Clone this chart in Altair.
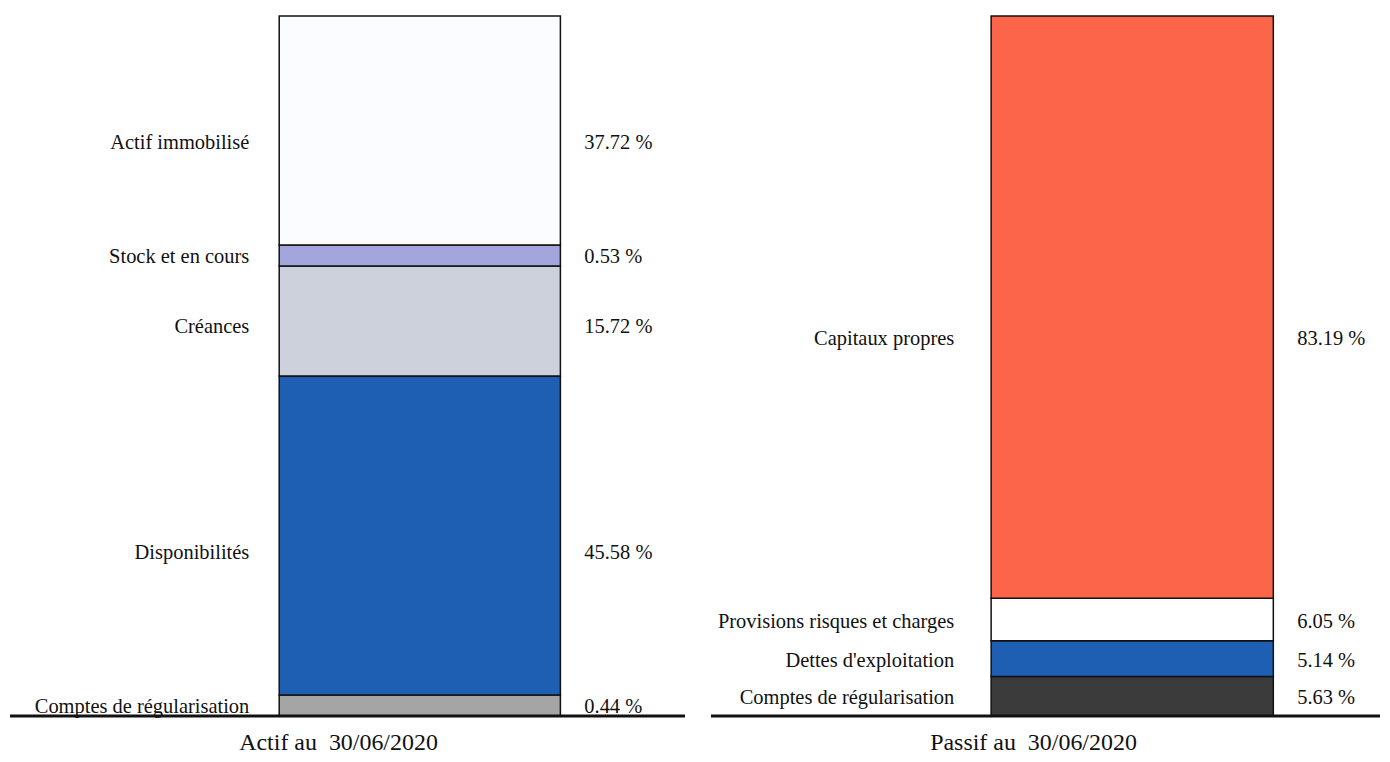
import altair as alt
import pandas as pd

# ---- data ----
actif_labels = ["Actif immobilisé", "Stock et en cours", "Créances", "Disponibilités", "Comptes de régularisation"]
actif_values = [37.72, 0.53, 15.72, 45.58, 0.44]
actif_colors = ["#fbfcff", "#a3a6dd", "#cdd1dc", "#1f5fb3", "#a5a5a5"]

passif_labels = ["Capitaux propres", "Provisions risques et charges", "Dettes d'exploitation", "Comptes de régularisation"]
passif_values = [83.19, 6.05, 5.14, 5.63]
passif_colors = ["#fc6549", "#ffffff", "#1f5fb3", "#3b3b3b"]

actif_title = "Actif au\u00a0\u00a030/06/2020"
passif_title = "Passif au\u00a0\u00a030/06/2020"

FONT = "Liberation Serif"
MIN_SHARE = 3.0  # minimum displayed band so tiny items stay visible


def build_table(labels, values, colors):
    disp = [max(v, MIN_SHARE) for v in values]
    disp[0] = 100 - sum(disp[1:])
    rows = []
    low = 0.0
    for lab, v, d, c in reversed(list(zip(labels, values, disp, colors))):
        rows.append(dict(label=lab, pct=f"{v:.2f}\u00a0%", y0=low, y1=low + d,
                         ylab=low + 0.445 * d, color=c))
        low += d
    return pd.DataFrame(rows)


def panel(df, title, bar_x, label_x, pct_x, line_x):
    sc = alt.Scale(domain=[0, 100], nice=False, zero=True)
    base = alt.Chart(df)
    bars = base.mark_rect(stroke="#111111", strokeWidth=1.5).encode(
        x=alt.value(bar_x[0]), x2=alt.value(bar_x[1]),
        y=alt.Y("y0:Q", scale=sc, axis=None), y2="y1:Q",
        fill=alt.Fill("color:N", scale=None),
    )
    labels = base.mark_text(align="right", baseline="middle", font=FONT,
                            fontSize=20.5, color="#111111").encode(
        x=alt.value(label_x), y=alt.Y("ylab:Q", scale=sc, axis=None), text="label:N")
    pcts = base.mark_text(align="left", baseline="middle", font=FONT,
                          fontSize=20.5, color="#111111").encode(
        x=alt.value(pct_x), y=alt.Y("ylab:Q", scale=sc, axis=None), text="pct:N")
    line = alt.Chart(pd.DataFrame({"v": [0]})).mark_rule(color="#111111", strokeWidth=3).encode(
        x=alt.value(line_x[0]), x2=alt.value(line_x[1]),
        y=alt.Y("v:Q", scale=sc, axis=None))
    return alt.layer(bars, labels, pcts, line).properties(
        width=679, height=702,
        title=alt.TitleParams(title, orient="bottom", anchor="middle", font=FONT,
                              fontSize=24, fontWeight="normal", color="#111111",
                              offset=14, dx=-8),
    )


left = panel(build_table(actif_labels, actif_values, actif_colors), actif_title,
             (272, 554), 242, 578, (2, 679))
right = panel(build_table(passif_labels, passif_values, passif_colors), passif_title,
              (289, 572), 252, 596, (8, 679))

chart = alt.hconcat(left, right, spacing=16).properties(
    padding={"top": 6, "left": 0, "right": 0, "bottom": 0}
).configure_view(stroke=None)

chart.save("out.html", embed_options={"renderer": "svg", "actions": False})
